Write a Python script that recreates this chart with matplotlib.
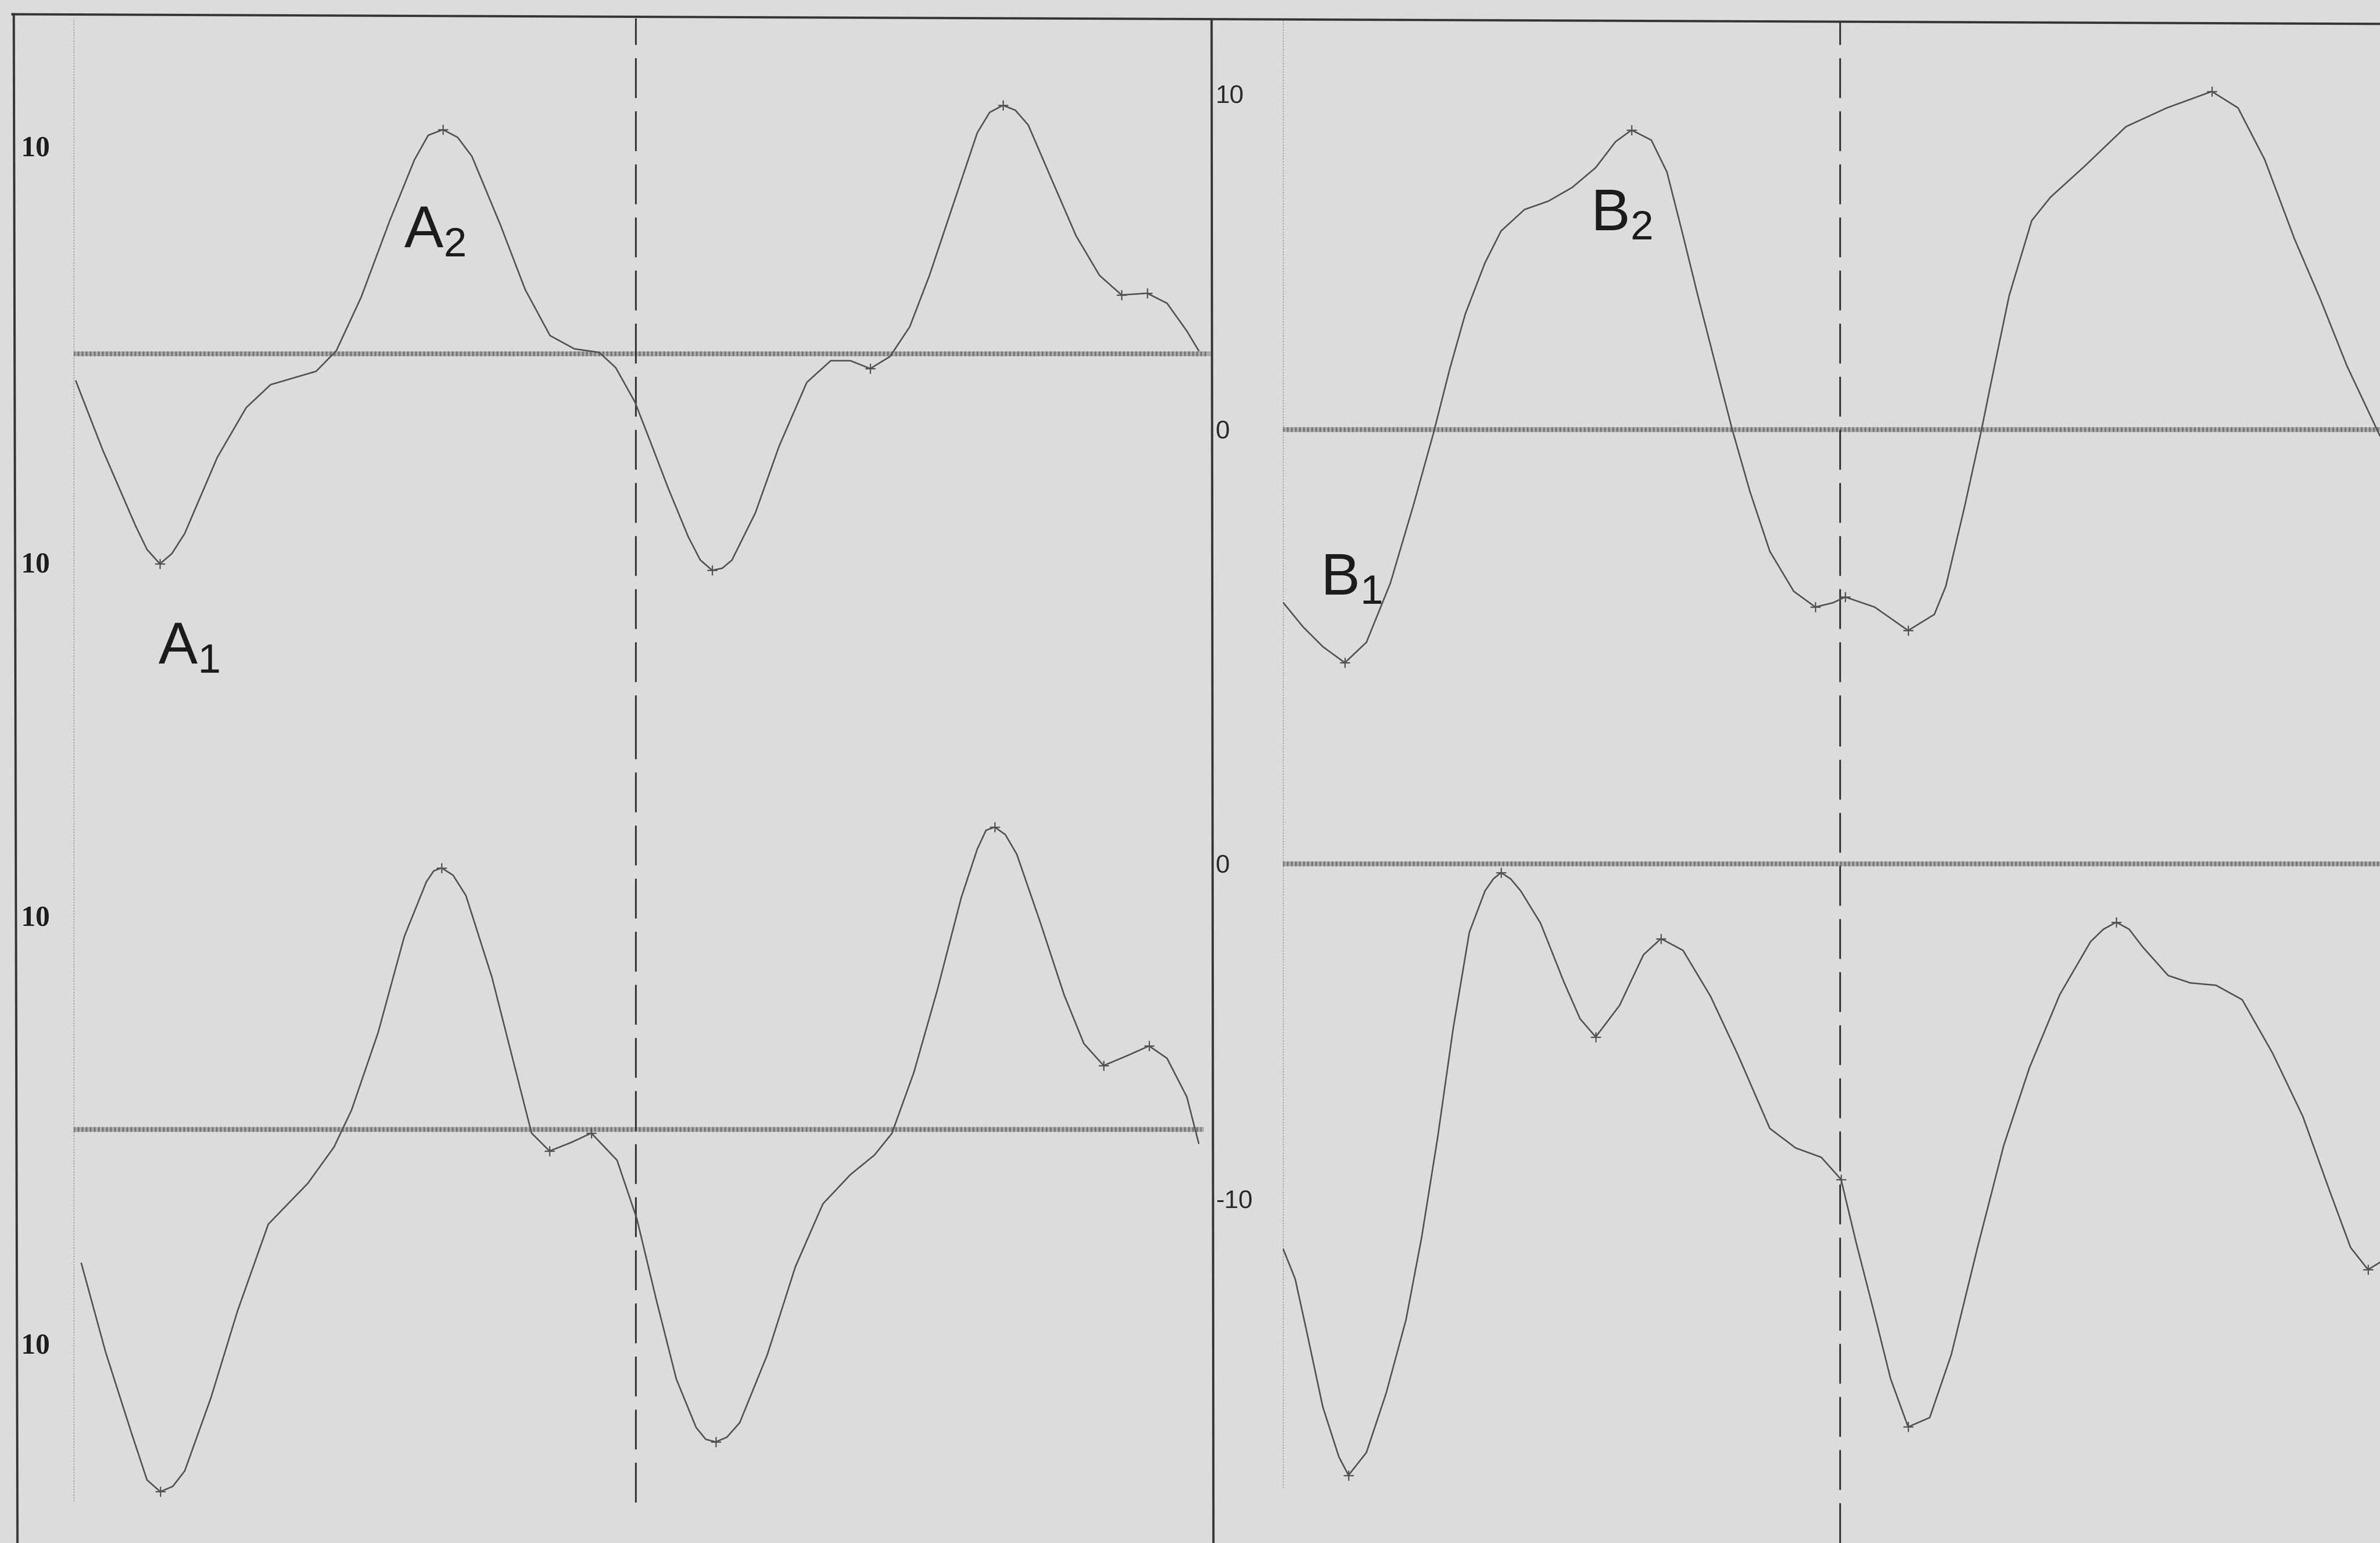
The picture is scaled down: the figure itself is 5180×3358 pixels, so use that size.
import matplotlib
matplotlib.use("Agg")
import matplotlib.pyplot as plt
from matplotlib.lines import Line2D

W_PX, H_PX = 5180, 3358
DPI = 100

# beat traces, time in ms from the start of each strip, amplitude in mV
TL_T = [2.5, 31.5, 67.5, 80, 94, 107, 121, 156.5, 188, 214.5, 241.5, 264, 286, 313, 344,
        371, 386, 402, 418, 433.5, 464.5, 491.5, 518.5, 545, 572, 590, 611, 626, 647.5,
        669, 682, 695, 706, 716.5, 742, 768, 798, 824, 845.5, 867, 888.5, 910, 931.5,
        957.5, 983.5, 997, 1011.5, 1025, 1039, 1065, 1091, 1116.5, 1140.5, 1168.5, 1190,
        1211.5, 1224.5]
TL_V = [-1.30, -4.59, -8.26, -9.40, -10.09, -9.60, -8.63, -4.97, -2.58, -1.48, -1.13,
        -0.84, 0.15, 2.72, 6.38, 9.32, 10.50, 10.77, 10.40, 9.49, 6.20, 3.09, 0.88, 0.24,
        0.07, -0.66, -2.32, -4.02, -6.49, -8.79, -9.90, -10.40, -10.30, -9.91, -7.64,
        -4.42, -1.37, -0.33, -0.33, -0.71, -0.13, 1.30, 3.77, 7.20, 10.62, 11.60, 11.94,
        11.70, 10.99, 8.32, 5.67, 3.77, 2.83, 2.91, 2.43, 1.10, 0.15]
TL_MARK_T = [94, 402, 695, 867, 1011.5, 1140.5, 1168.5]

BL_T = [8.5, 35, 63.5, 80, 94.5, 108, 121, 149.5, 178.5, 212, 255, 283.5, 302.5, 331.5,
        360, 384, 392, 400.5, 413, 427, 455.5, 484.5, 498.5, 518, 542, 563.5, 591.5, 613,
        634.5, 656, 677.5, 688, 699, 711, 725, 755, 785.5, 815.5, 845.5, 871.5, 890.5,
        914.5, 940, 966, 983.5, 993, 1002.5, 1014, 1026.5, 1052, 1078, 1099.5, 1121,
        1147, 1170.5, 1190, 1211.5, 1224.5]
BL_V = [-6.26, -10.43, -14.26, -16.40, -16.95, -16.70, -15.98, -12.56, -8.49, -4.43,
        -2.52, -0.82, 0.90, 4.54, 9.03, 11.59, 12.10, 12.24, 11.90, 10.95, 7.10, 2.19,
        -0.17, -1.01, -0.60, -0.17, -1.44, -4.17, -8.02, -11.68, -13.94, -14.50, -14.62,
        -14.40, -13.72, -10.54, -6.43, -3.48, -2.11, -1.20, -0.19, 2.67, 6.52, 10.84,
        13.12, 14.00, 14.15, 13.80, 12.88, 9.70, 6.30, 4.02, 2.99, 3.46, 3.91, 3.33, 1.53,
        -0.65]
BL_MARK_T = [94.5, 400.5, 518, 563.5, 699, 1002.5, 1121, 1170.5]

TR_T = [0.5, 22, 43.5, 67.5, 91, 117, 142.5, 164, 181.5, 198.5, 220, 237.5, 263, 289, 315,
        340.5, 362, 379.5, 401, 418, 435.5, 452.5, 470, 489, 508.5, 530, 556, 579.5, 599,
        612, 644, 680.5, 709, 721.5, 742, 760, 774.5, 790.5, 815, 835.5, 872.5, 917.5, 962,
        1011, 1039.5, 1068.5, 1101, 1129.5, 1158, 1194]
TR_V = [-5.16, -5.88, -6.47, -6.95, -6.34, -4.58, -2.22, -0.10, 1.79, 3.44, 4.97, 5.92,
        6.56, 6.81, 7.22, 7.81, 8.58, 8.93, 8.63, 7.68, 5.79, 3.90, 2.03, 0.01, -1.86,
        -3.63, -4.82, -5.29, -5.16, -4.99, -5.29, -5.99, -5.51, -4.67, -2.29, -0.05, 1.90,
        4.00, 6.23, 6.93, 7.85, 9.03, 9.59, 10.08, 9.59, 8.05, 5.68, 3.86, 1.90, -0.19]
TR_MARK_T = [67.5, 379.5, 579.5, 612, 680.5, 1011]

BR_T = [0.5, 13.5, 26.5, 43.5, 61, 71.5, 91, 112.5, 134, 151, 168.5, 185.5, 203, 220, 229,
        237.5, 248, 259, 280.5, 306, 323.5, 340.5, 366.5, 392.5, 411.5, 435.5, 465.5,
        495.5, 530, 558, 586, 607.5, 624, 643, 661.5, 680.5, 704, 727.5, 756, 784.5,
        812.5, 845.5, 879, 893, 907, 921, 935.5, 963.5, 987.5, 1015.5, 1044, 1077, 1110,
        1138.5, 1162, 1181, 1194]
BR_V = [-11.49, -12.38, -14.01, -16.19, -17.68, -18.23, -17.55, -15.78, -13.60, -11.15,
        -8.16, -4.89, -2.04, -0.81, -0.45, -0.26, -0.45, -0.81, -1.77, -3.53, -4.62, -5.16,
        -4.22, -2.71, -2.23, -2.58, -3.95, -5.71, -7.89, -8.47, -8.75, -9.41, -11.30,
        -13.33, -15.36, -16.79, -16.51, -14.63, -11.44, -8.40, -6.08, -3.90, -2.32, -1.95,
        -1.74, -1.95, -2.47, -3.33, -3.55, -3.62, -4.05, -5.64, -7.53, -9.70, -11.44,
        -12.10, -11.88]
BR_MARK_T = [71.5, 237.5, 340.5, 411.5, 607.5, 680.5, 907, 1181]

# beat boundary (ms) for left and right strips
SPLIT_LEFT = 612
SPLIT_RIGHT = 606.5

LEFT_TICKS = [10, -10]
LEFT_TICK_LABELS = ["10", "10"]
TR_TICKS = [10, 0]
TR_TICK_LABELS = ["10", "0"]
BR_TICKS = [0, -10]
BR_TICK_LABELS = ["0", "-10"]

BG = "#dcdcdc"
INK = "#363636"
TRACE = "#525252"

plt.rcParams["font.family"] = ["Liberation Sans", "DejaVu Sans"]
plt.rcParams["mathtext.fontset"] = "custom"
plt.rcParams["mathtext.rm"] = "Liberation Sans"
plt.rcParams["mathtext.it"] = "Liberation Sans"


def px_rect(x0, y0, x1, y1):
    return [x0 / W_PX, 1 - y1 / H_PX, (x1 - x0) / W_PX, (y1 - y0) / H_PX]


def fig_line(fig, xs, ys, **kw):
    fig.add_artist(Line2D([x / W_PX for x in xs], [1 - y / H_PX for y in ys],
                          transform=fig.transFigure, **kw))


def make_axes(fig, rect, xlim, ylim):
    ax = fig.add_axes(rect)
    ax.set_facecolor("none")
    ax.set_xlim(*xlim)
    ax.set_ylim(*ylim)
    for side in ax.spines.values():
        side.set_visible(False)
    ax.set_xticks([])
    return ax


def set_ticks(ax, ticks, labels, pad, bold):
    ax.set_yticks(ticks)
    if bold:
        ax.set_yticklabels(labels, fontfamily="Liberation Serif", fontweight="bold",
                           fontsize=45, color="#1e1e1e")
    else:
        ax.set_yticklabels(labels, fontfamily="Liberation Sans", fontsize=40,
                           color="#2a2a2a")
    ax.tick_params(axis="y", length=0, pad=pad)
    for lab in ax.get_yticklabels():
        lab.set_horizontalalignment("left")


def draw_baseline(ax, xmax=1.0):
    ax.axhline(0, xmin=0.0, xmax=xmax, color="#ababab", lw=7.5, zorder=1)
    ax.axhline(0, xmin=0.0, xmax=xmax, color="#747474", lw=7.5,
               linestyle=(0, (0.35, 0.5)), zorder=1)


def draw_trace(ax, t, v, mark_t):
    ax.plot(t, v, color=TRACE, lw=2.4, zorder=3, solid_joinstyle="round",
            solid_capstyle="round")
    idx = [t.index(m) for m in mark_t]
    ax.plot([t[i] for i in idx], [v[i] for i in idx], linestyle="none",
            marker="+", markersize=16, mew=2.0, color=TRACE, zorder=4)


def draw_guides(ax, split, axis_from=0.0, split_from=0.0):
    ax.axvline(0, ymin=axis_from, ymax=1.0, color="#9c9c9c", lw=2.2,
               linestyle=(0, (1, 1)), zorder=2)
    ax.axvline(split, ymin=split_from, ymax=1.0, color="#2c2c2c", lw=2.6,
               linestyle=(0, (24, 8)), zorder=2)


def label(ax, x, y, text):
    ax.text(x, y, r"$\mathregular{" + text + "}$", fontsize=92, color="#1c1c1c",
            ha="left", va="baseline")


fig = plt.figure(figsize=(W_PX / DPI, H_PX / DPI), dpi=DPI, facecolor=BG)

# frame of the scanned sheet
fig_line(fig, [27, 5180], [31, 52], color=INK, lw=3.6)
fig_line(fig, [30, 38], [31, 3358], color=INK, lw=3.6)
fig_line(fig, [2637, 2641], [45, 3358], color=INK, lw=3.6)

# left strips
ax_tl = make_axes(fig, px_rect(160, 40, 2640, 1600), (0, 1240), (-18.32, 16.115))
ax_bl = make_axes(fig, px_rect(160, 1600, 2640, 3358), (0, 1240), (-19.35, 18.45))
# right strips
ax_tr = make_axes(fig, px_rect(2792, 45, 5180, 1600), (0, 1194), (-9.11, 12.19))
ax_br = make_axes(fig, px_rect(2792, 1600, 5180, 3358), (0, 1194), (-20.25, 3.836))

set_ticks(ax_tl, LEFT_TICKS, LEFT_TICK_LABELS, 82, True)
set_ticks(ax_bl, LEFT_TICKS, LEFT_TICK_LABELS, 82, True)
set_ticks(ax_tr, TR_TICKS, TR_TICK_LABELS, 105, False)
set_ticks(ax_br, BR_TICKS, BR_TICK_LABELS, 105, False)

draw_guides(ax_tl, SPLIT_LEFT)
draw_guides(ax_bl, SPLIT_LEFT, axis_from=0.052, split_from=0.05)
draw_guides(ax_tr, SPLIT_RIGHT)
draw_guides(ax_br, SPLIT_RIGHT, axis_from=0.068, split_from=0.0)

draw_baseline(ax_tl, xmax=0.996)
draw_baseline(ax_bl, xmax=0.99)
draw_baseline(ax_tr)
draw_baseline(ax_br)

draw_trace(ax_tl, TL_T, TL_V, TL_MARK_T)
draw_trace(ax_bl, BL_T, BL_V, BL_MARK_T)
draw_trace(ax_tr, TR_T, TR_V, TR_MARK_T)
draw_trace(ax_br, BR_T, BR_V, BR_MARK_T)

label(ax_tl, 359.5, 5.12, "A_2")
label(ax_tl, 92, -14.88, "A_1")
label(ax_tr, 335, 5.93, "B_2")
label(ax_tr, 41, -4.93, "B_1")

fig.savefig("out.png", dpi=DPI, facecolor=BG)
